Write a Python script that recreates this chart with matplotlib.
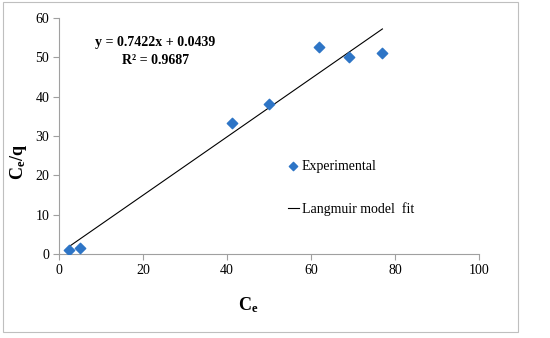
import matplotlib
matplotlib.use("Agg")
import matplotlib.pyplot as plt
from matplotlib.patches import Rectangle
import numpy as np

# ─── Daten ────────────────────────────────────────────────────────────────────
ce = [2.5, 5.0, 41.2, 50.0, 62.0, 69.0, 77.0]
ce_q = [1.0, 1.6, 33.3, 38.1, 52.5, 50.1, 51.0]
slope, intercept = 0.7422, 0.0439
fit_x = [2.5, 77.0]

plt.rcParams["font.family"] = ["Liberation Serif", "DejaVu Serif"]
plt.rcParams["mathtext.fontset"] = "custom"
plt.rcParams["mathtext.rm"] = "Liberation Serif"
plt.rcParams["mathtext.bf"] = "Liberation Serif:bold"

fig = plt.figure(figsize=(5.5, 3.38), dpi=100)
ax = fig.add_axes([0.107, 0.249, 0.764, 0.698])

# outer frame
fig.patches.append(Rectangle((0.006, 0.018), 0.936, 0.975, transform=fig.transFigure,
                             fill=False, edgecolor="#bfbfbf", linewidth=0.8))

ax.scatter(ce, ce_q, marker="D", s=28, color="#2e75c6", zorder=3,
           label="Experimental")
fx = np.array(fit_x)
ax.plot(fx, slope * fx + intercept, color="black", linewidth=0.8,
        label="Langmuir model  fit")

ax.set_xlim(0, 100)
ax.set_ylim(0, 60)
ax.set_xticks(range(0, 101, 20))
ax.set_yticks(range(0, 61, 10))
ax.tick_params(labelsize=10, length=4, width=0.8, color="#a0a0a0", pad=3)
for s in ("top", "right"):
    ax.spines[s].set_visible(False)
for s in ("left", "bottom"):
    ax.spines[s].set_color("#a0a0a0")
    ax.spines[s].set_linewidth(0.8)

ax.set_xlabel(r"$\mathbf{C_e}$", fontsize=13)
ax.set_ylabel(r"$\mathbf{C_e/q}$", fontsize=13)
ax.xaxis.set_label_coords(0.45, -0.175)
ax.yaxis.set_label_coords(-0.07, 0.39)

ax.text(23, 51.4, "y = 0.7422x + 0.0439\nR² = 0.9687", ha="center", va="center",
        fontsize=10, fontweight="bold", linespacing=1.45)

ax.legend(loc="center left", bbox_to_anchor=(0.528, 0.28), frameon=False,
          fontsize=10, handlelength=0.8, handletextpad=0.2, labelspacing=2.1,
          borderpad=0, markerscale=0.8)

fig.savefig("out.png", dpi=100)
